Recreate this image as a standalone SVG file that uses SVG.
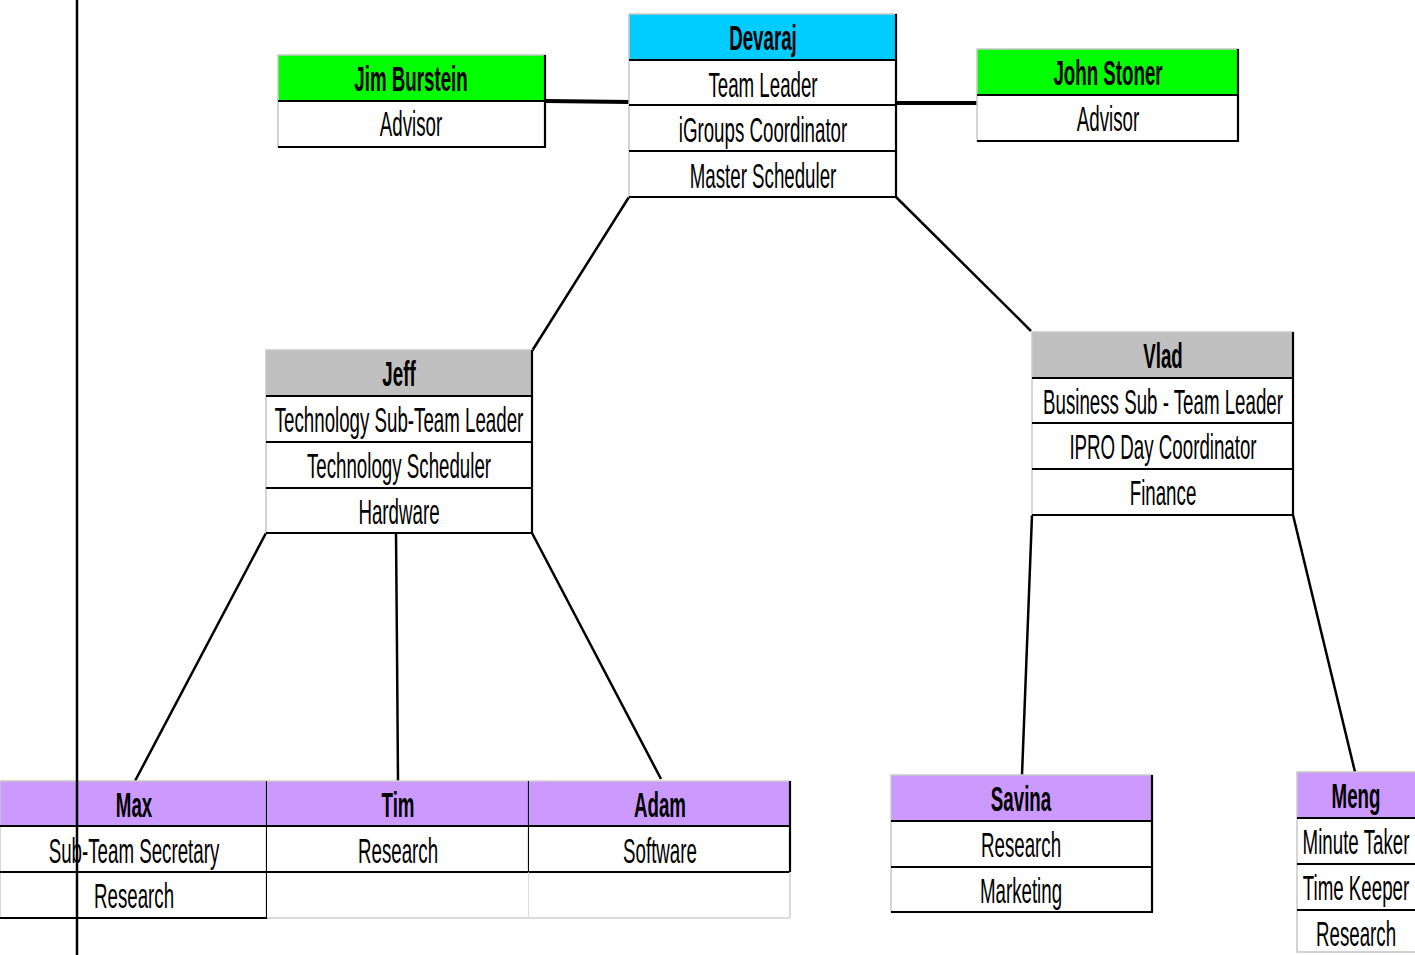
<svg xmlns="http://www.w3.org/2000/svg" width="1415" height="955" viewBox="0 0 1415 955">
<style>
.h{font-family:"Liberation Sans",Arial,sans-serif;font-weight:bold;font-size:35px;fill:#000}
.r{font-family:"Liberation Sans",Arial,sans-serif;font-size:35px;fill:#000}
.frame{fill:none;stroke:#c8c8c8;stroke-width:1.5}
.sep{stroke:#000;stroke-width:2.2}
.light{stroke:#d0d0d0;stroke-width:1.5}
.cyan{fill:#00CCFF}.green{fill:#00FF00}.grey{fill:#C0C0C0}.purple{fill:#CC99FF}.white{fill:#fff}
.conn line,.conn polyline{stroke:#000;stroke-width:2.5;fill:none}
.conn .thick{stroke-width:4}
</style>
<rect width="1415" height="955" fill="#fff"/>

<g class="conn" id="connectors">
<line class="thick" x1="545" y1="101" x2="630" y2="102"/>
<line class="thick" x1="896" y1="103" x2="977" y2="103"/>
<line x1="629" y1="197" x2="532" y2="351"/>
<line x1="896" y1="197" x2="1031" y2="331"/>
<line x1="266" y1="533" x2="135" y2="781"/>
<polyline points="396,533 397,650 398,781"/>
<line x1="532" y1="533" x2="661" y2="779"/>
<line x1="1032" y1="515" x2="1022" y2="775"/>
<line x1="1293" y1="515" x2="1355" y2="772"/>
</g>

<g id="devaraj">
<rect class="cyan" x="629" y="14" width="267" height="46"/>
<rect class="white" x="629" y="60" width="267" height="137"/>
<rect class="frame" x="629" y="14" width="267" height="183"/>
<line class="sep" x1="629" y1="60" x2="896" y2="60"/>
<line class="sep" x1="629" y1="105" x2="896" y2="105"/>
<line class="sep" x1="629" y1="151" x2="896" y2="151"/>
<line class="sep" x1="629" y1="197" x2="897" y2="197"/>
<line class="sep" x1="896" y1="14" x2="896" y2="197"/>
<text class="h" text-anchor="middle" transform="translate(763,50) scale(0.535,1)">Devaraj</text>
<text class="r" text-anchor="middle" transform="translate(763,97) scale(0.535,1)">Team Leader</text>
<text class="r" text-anchor="middle" transform="translate(763,142) scale(0.535,1)">iGroups Coordinator</text>
<text class="r" text-anchor="middle" transform="translate(763,188) scale(0.535,1)">Master Scheduler</text>
</g>

<g id="jim">
<rect class="green" x="278" y="55" width="267" height="46"/>
<rect class="white" x="278" y="101" width="267" height="46"/>
<rect class="frame" x="278" y="55" width="267" height="92"/>
<line class="sep" x1="278" y1="101" x2="545" y2="101"/>
<line class="sep" x1="278" y1="147" x2="546" y2="147"/>
<line class="sep" x1="545" y1="55" x2="545" y2="147"/>
<text class="h" text-anchor="middle" transform="translate(411,91) scale(0.535,1)">Jim Burstein</text>
<text class="r" text-anchor="middle" transform="translate(411,136) scale(0.535,1)">Advisor</text>
</g>

<g id="john">
<rect class="green" x="977" y="49" width="261" height="46"/>
<rect class="white" x="977" y="95" width="261" height="46"/>
<rect class="frame" x="977" y="49" width="261" height="92"/>
<line class="sep" x1="977" y1="95" x2="1238" y2="95"/>
<line class="sep" x1="977" y1="141" x2="1239" y2="141"/>
<line class="sep" x1="1238" y1="49" x2="1238" y2="141"/>
<text class="h" text-anchor="middle" transform="translate(1108,85) scale(0.535,1)">John Stoner</text>
<text class="r" text-anchor="middle" transform="translate(1108,131) scale(0.535,1)">Advisor</text>
</g>

<g id="jeff">
<rect class="grey" x="266" y="350" width="266" height="46"/>
<rect class="white" x="266" y="396" width="266" height="137"/>
<rect class="frame" x="266" y="350" width="266" height="183"/>
<line class="sep" x1="266" y1="396" x2="532" y2="396"/>
<line class="sep" x1="266" y1="442" x2="532" y2="442"/>
<line class="sep" x1="266" y1="488" x2="532" y2="488"/>
<line class="sep" x1="266" y1="533" x2="533" y2="533"/>
<line class="sep" x1="532" y1="350" x2="532" y2="533"/>
<text class="h" text-anchor="middle" transform="translate(399,386) scale(0.535,1)">Jeff</text>
<text class="r" text-anchor="middle" transform="translate(399,432) scale(0.535,1)">Technology Sub-Team Leader</text>
<text class="r" text-anchor="middle" transform="translate(399,478) scale(0.535,1)">Technology Scheduler</text>
<text class="r" text-anchor="middle" transform="translate(399,524) scale(0.535,1)">Hardware</text>
</g>

<g id="vlad">
<rect class="grey" x="1032" y="332" width="261" height="46"/>
<rect class="white" x="1032" y="378" width="261" height="137"/>
<rect class="frame" x="1032" y="332" width="261" height="183"/>
<line class="sep" x1="1032" y1="378" x2="1293" y2="378"/>
<line class="sep" x1="1032" y1="423" x2="1293" y2="423"/>
<line class="sep" x1="1032" y1="469" x2="1293" y2="469"/>
<line class="sep" x1="1032" y1="515" x2="1294" y2="515"/>
<line class="sep" x1="1293" y1="332" x2="1293" y2="515"/>
<text class="h" text-anchor="middle" transform="translate(1163,368) scale(0.535,1)">Vlad</text>
<text class="r" text-anchor="middle" transform="translate(1163,414) scale(0.535,1)">Business Sub - Team Leader</text>
<text class="r" text-anchor="middle" transform="translate(1163,459) scale(0.535,1)">IPRO Day Coordinator</text>
<text class="r" text-anchor="middle" transform="translate(1163,505) scale(0.535,1)">Finance</text>
</g>

<g id="max">
<rect class="purple" x="0" y="781" width="267" height="45"/>
<rect class="white" x="0" y="826" width="267" height="92"/>
<rect class="frame" x="0" y="781" width="267" height="137"/>
<line class="sep" x1="0" y1="826" x2="267" y2="826"/>
<line class="sep" x1="0" y1="872" x2="267" y2="872"/>
<line class="sep" x1="0" y1="918" x2="268" y2="918"/>
<line class="sep" x1="267" y1="781" x2="267" y2="918"/>
<text class="h" text-anchor="middle" transform="translate(134,817) scale(0.535,1)">Max</text>
<text class="r" text-anchor="middle" transform="translate(134,863) scale(0.535,1)">Sub-Team Secretary</text>
<text class="r" text-anchor="middle" transform="translate(134,908) scale(0.535,1)">Research</text>
</g>

<g id="tim">
<rect class="purple" x="267" y="781" width="262" height="45"/>
<rect class="white" x="267" y="826" width="262" height="92"/>
<line class="light" x1="267" y1="918" x2="529" y2="918"/>
<line class="light" x1="267" y1="781" x2="529" y2="781"/>
<line class="sep" x1="267" y1="826" x2="529" y2="826"/>
<line class="sep" x1="267" y1="872" x2="529" y2="872"/>
<line class="sep" x1="529" y1="781" x2="529" y2="872"/>
<line class="light" x1="529" y1="872" x2="529" y2="918"/>
<text class="h" text-anchor="middle" transform="translate(398,817) scale(0.535,1)">Tim</text>
<text class="r" text-anchor="middle" transform="translate(398,863) scale(0.535,1)">Research</text>
</g>

<g id="adam">
<rect class="purple" x="529" y="781" width="261" height="45"/>
<rect class="white" x="529" y="826" width="261" height="92"/>
<line class="light" x1="529" y1="918" x2="790" y2="918"/>
<line class="light" x1="529" y1="781" x2="790" y2="781"/>
<line class="sep" x1="529" y1="826" x2="790" y2="826"/>
<line class="sep" x1="529" y1="872" x2="790" y2="872"/>
<line class="sep" x1="790" y1="781" x2="790" y2="872"/>
<line class="light" x1="790" y1="872" x2="790" y2="918"/>
<text class="h" text-anchor="middle" transform="translate(660,817) scale(0.535,1)">Adam</text>
<text class="r" text-anchor="middle" transform="translate(660,863) scale(0.535,1)">Software</text>
</g>

<g id="savina">
<rect class="purple" x="891" y="775" width="261" height="46"/>
<rect class="white" x="891" y="821" width="261" height="91"/>
<rect class="frame" x="891" y="775" width="261" height="137"/>
<line class="sep" x1="891" y1="821" x2="1152" y2="821"/>
<line class="sep" x1="891" y1="867" x2="1152" y2="867"/>
<line class="sep" x1="891" y1="912" x2="1153" y2="912"/>
<line class="sep" x1="1152" y1="775" x2="1152" y2="912"/>
<text class="h" text-anchor="middle" transform="translate(1021,811) scale(0.535,1)">Savina</text>
<text class="r" text-anchor="middle" transform="translate(1021,857) scale(0.535,1)">Research</text>
<text class="r" text-anchor="middle" transform="translate(1021,903) scale(0.535,1)">Marketing</text>
</g>

<g id="meng">
<rect class="purple" x="1297" y="772" width="130" height="46"/>
<rect class="white" x="1297" y="818" width="130" height="134"/>
<rect class="frame" x="1297" y="772" width="130" height="180"/>
<line class="sep" x1="1297" y1="818" x2="1427" y2="818"/>
<line class="sep" x1="1297" y1="864" x2="1427" y2="864"/>
<line class="sep" x1="1297" y1="910" x2="1427" y2="910"/>
<line class="light" x1="1297" y1="952" x2="1427" y2="952"/>
<text class="h" text-anchor="middle" transform="translate(1356,808) scale(0.535,1)">Meng</text>
<text class="r" text-anchor="middle" transform="translate(1356,854) scale(0.535,1)">Minute Taker</text>
<text class="r" text-anchor="middle" transform="translate(1356,900) scale(0.535,1)">Time Keeper</text>
<text class="r" text-anchor="middle" transform="translate(1356,946) scale(0.535,1)">Research</text>
</g>

<g id="divider">
<line x1="77" y1="0" x2="77" y2="955" stroke="#000" stroke-width="2.5"/>
</g>
</svg>
